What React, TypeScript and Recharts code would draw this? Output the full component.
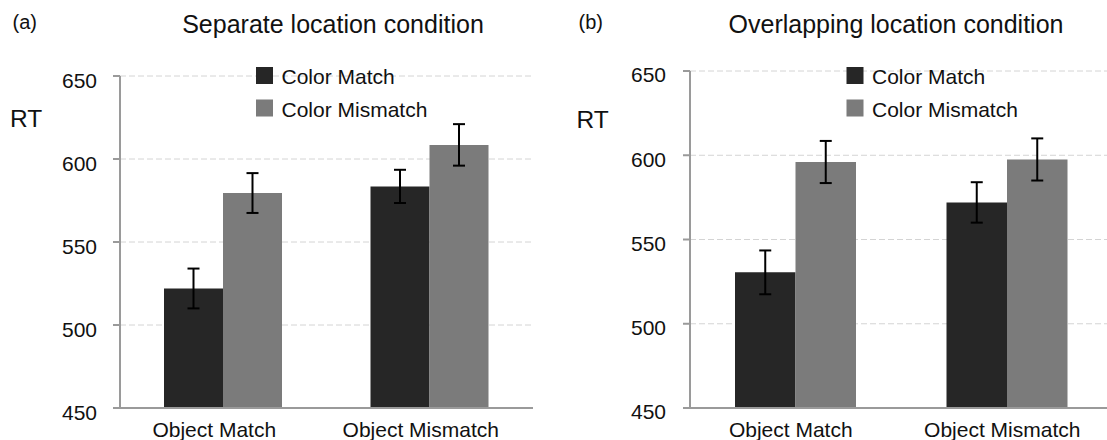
import { Bar, BarChart, CartesianGrid, ErrorBar, XAxis, YAxis } from 'recharts'

const categories = ['Object Match', 'Object Mismatch']
const seriesNames = ['Color Match', 'Color Mismatch']
const seriesColors = ['#262626', '#7b7b7b']
const yTicks = [450, 500, 550, 600, 650]

// (a) separate location
const separateMatch = [522, 583.5]
const separateMatchErr = [12, 10]
const separateMismatch = [579.5, 608.5]
const separateMismatchErr = [12, 12.5]

// (b) overlapping location
const overlapMatch = [530.5, 572]
const overlapMatchErr = [13, 12]
const overlapMismatch = [596, 597.5]
const overlapMismatchErr = [12.5, 12.5]

const FONT = '"Liberation Sans", Arial, sans-serif'
const AXIS = '#9a9a9a'

type Row = { name: string; match: number; matchErr: number; mismatch: number; mismatchErr: number }

function buildRows(m: number[], mErr: number[], mm: number[], mmErr: number[]): Row[] {
	return categories.map((name, i) => ({
		name,
		match: m[i],
		matchErr: mErr[i],
		mismatch: mm[i],
		mismatchErr: mmErr[i],
	}))
}

type PanelProps = {
	data: Row[]
	left: number
	width: number
	top: number
	right: number
	barSize: number
	labelDx: number
	tickDy: number
	tickMargin: number
}

function Panel({ data, left, width, top, right, barSize, labelDx, tickDy, tickMargin }: PanelProps) {
	return (
		<div style={{ position: 'absolute', left, top: 0 }}>
			<BarChart
				width={width}
				height={440}
				data={data}
				margin={{ top, right, bottom: 0, left: 0 }}
				barGap={0}
				barSize={barSize}
			>
				<CartesianGrid vertical={false} stroke='#d4d4d4' strokeDasharray='6 3' />
				<XAxis
					dataKey='name'
					height={32}
					axisLine={{ stroke: AXIS, strokeWidth: 2 }}
					tickLine={false}
					tickSize={0}
					tickMargin={14}
					tick={{ fontSize: 21, fill: '#111', fontFamily: FONT, dx: labelDx }}
				/>
				<YAxis
					width={120}
					domain={[450, 650]}
					ticks={yTicks}
					allowDataOverflow
					axisLine={{ stroke: AXIS, strokeWidth: 2 }}
					tickLine={{ stroke: AXIS, strokeWidth: 2 }}
					tickSize={7}
					tickMargin={tickMargin}
					tick={{ fontSize: 21, fill: '#111', fontFamily: FONT, dy: tickDy }}
				/>
				<Bar dataKey='match' fill={seriesColors[0]} isAnimationActive={false}>
					<ErrorBar dataKey='matchErr' width={6} stroke='#000' strokeWidth={2} direction='y' />
				</Bar>
				<Bar dataKey='mismatch' fill={seriesColors[1]} isAnimationActive={false}>
					<ErrorBar dataKey='mismatchErr' width={6} stroke='#000' strokeWidth={2} direction='y' />
				</Bar>
			</BarChart>
		</div>
	)
}

function Legend({ x }: { x: number }) {
	return (
		<g>
			{seriesNames.map((s, i) => (
				<g key={s}>
					<rect x={x} y={67 + i * 32.5} width={17} height={17} fill={seriesColors[i]} />
					<text x={x + 25.5} y={84 + i * 32.5} fontSize={21} fill='#111'>
						{s}
					</text>
				</g>
			))}
		</g>
	)
}

export default function App() {
	const sep = buildRows(separateMatch, separateMatchErr, separateMismatch, separateMismatchErr)
	const ovl = buildRows(overlapMatch, overlapMatchErr, overlapMismatch, overlapMismatchErr)
	return (
		<div
			style={{
				position: 'absolute',
				left: 0,
				top: 0,
				width: 1107,
				height: 440,
				overflow: 'hidden',
				background: '#fff',
				fontFamily: FONT,
			}}
		>
			<Panel data={sep} left={0} width={550} top={76} right={17} barSize={59} labelDx={-9} tickDy={5} tickMargin={16} />
			<Panel data={ovl} left={570} width={543} top={71} right={0} barSize={60.5} labelDx={-5} tickDy={4} tickMargin={17} />
			<svg
				width={1107}
				height={440}
				style={{ position: 'absolute', left: 0, top: 0, pointerEvents: 'none', fontFamily: FONT }}
			>
				<text x={12.5} y={29} fontSize={20} fill='#111'>(a)</text>
				<text x={333} y={33} fontSize={25} fill='#111' textAnchor='middle'>Separate location condition</text>
				<text x={10} y={127} fontSize={24.5} fill='#111'>RT</text>
				<Legend x={256} />

				<text x={578.5} y={29} fontSize={20} fill='#111'>(b)</text>
				<text x={896} y={33} fontSize={25} fill='#111' textAnchor='middle'>Overlapping location condition</text>
				<text x={576.5} y={128} fontSize={24.5} fill='#111'>RT</text>
				<Legend x={846.5} />
			</svg>
		</div>
	)
}
